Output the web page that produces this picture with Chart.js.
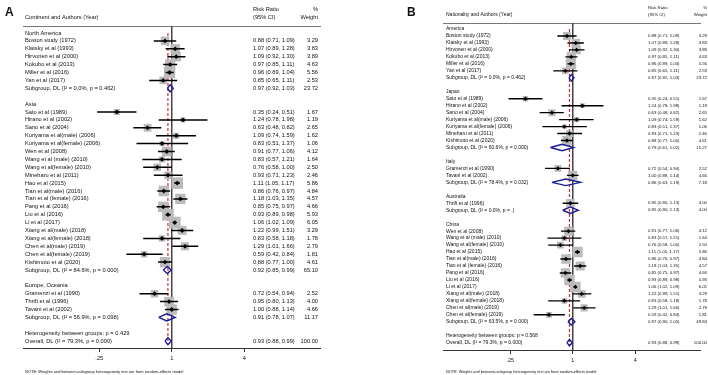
<!DOCTYPE html>
<html>
<head>
<meta charset="utf-8">
<script src="https://cdn.jsdelivr.net/npm/chart.js@4"></script>
<style>
  html, body { margin: 0; padding: 0; background: #fff; }
  #wrap { position: relative; width: 708px; height: 375px; }
  canvas { position: absolute; top: 0; }
  #forest-a { left: 0; }
  #forest-b { left: 354px; }
</style>
</head>
<body>
<div id="wrap">
  <canvas id="forest-a" width="354" height="375"></canvas>
  <canvas id="forest-b" width="354" height="375"></canvas>
</div>
<script>
// x axis (risk ratio, log scale)
const tickValues = [0.25, 1, 4];
const tickLabels = ['.25', '1', '4'];
const note = 'NOTE: Weights and between-subgroup heterogeneity test are from random-effects model';

// panel A, one entry per row top to bottom ('' = empty row, null = no estimate)
const namesA = [
  'North America',
  'Boston study (1972)', 'Klatsky et al (1993)', 'Hirvonen et al (2000)', 'Kokubo et al (2013)',
  'Miller et al (2016)', 'Yan et al (2017)',
  'Subgroup, DL (I² = 0.0%, p = 0.462)',
  '',
  'Asia',
  'Sato et al (1989)', 'Hirano et al (2002)', 'Sano et al (2004)', 'Kuriyama et al(male) (2006)',
  'Kuriyama et al(female) (2006)', 'Wen et al (2008)', 'Wang et al (male) (2010)', 'Wang et al(female) (2010)',
  'Mineharu et al (2011)', 'Hao et al (2015)', 'Tian et al(male) (2016)', 'Tian et al (female) (2016)',
  'Pang et al (2016)', 'Liu et al (2016)', 'Li et al (2017)', 'Xiang et al(male) (2018)',
  'Xiang et al(female) (2018)', 'Chen et al(male) (2019)', 'Chen et al(female) (2019)', 'Kishimoto et al (2020)',
  'Subgroup, DL (I² = 84.6%, p = 0.000)',
  '',
  'Europe, Oceania',
  'Gramenzi et al (1990)', 'Thrift et al (1996)', 'Tavani et al (2002)',
  'Subgroup, DL (I² = 56.9%, p = 0.098)',
  '',
  'Heterogeneity between groups: p = 0.429',
  'Overall, DL (I² = 79.3%, p = 0.000)'
];
const estA = [null, 0.88, 1.07, 1.09, 0.97, 0.96, 0.85, 0.97, null, null,
  0.35, 1.24, 0.63, 1.09, 0.83, 0.91, 0.83, 0.76, 0.93, 1.11, 0.86, 1.18, 0.85, 0.93, 1.06, 1.22, 0.83, 1.29, 0.59, 0.88,
  0.92, null, null, 0.72, 0.95, 1.00, 0.91, null, null, 0.93];
const lowA = [null, 0.71, 0.89, 0.92, 0.85, 0.89, 0.65, 0.92, null, null,
  0.24, 0.78, 0.48, 0.74, 0.51, 0.77, 0.57, 0.58, 0.71, 1.05, 0.76, 1.03, 0.75, 0.89, 1.02, 0.99, 0.58, 1.01, 0.42, 0.77,
  0.85, null, null, 0.54, 0.80, 0.88, 0.78, null, null, 0.88];
const highA = [null, 1.09, 1.28, 1.30, 1.11, 1.04, 1.11, 1.03, null, null,
  0.51, 1.98, 0.82, 1.59, 1.37, 1.06, 1.21, 1.00, 1.23, 1.17, 0.97, 1.35, 0.97, 0.98, 1.09, 1.51, 1.18, 1.66, 0.84, 1.00,
  0.99, null, null, 0.94, 1.13, 1.14, 1.07, null, null, 0.99];
const weightA = [null, 3.29, 3.83, 3.89, 4.63, 5.56, 2.53, 23.72, null, null,
  1.67, 1.19, 2.65, 1.62, 1.06, 4.12, 1.64, 2.50, 2.46, 5.86, 4.84, 4.57, 4.66, 5.93, 6.05, 3.29, 1.78, 2.79, 1.81, 4.61,
  65.10, null, null, 2.52, 4.00, 4.66, 11.17, null, null, 100.00];

// panel B
const namesB = [
  'America',
  'Boston study (1972)', 'Klatsky et al (1993)', 'Hirvonen et al (2000)', 'Kokubo et al (2013)',
  'Miller et al (2016)', 'Yan et al (2017)',
  'Subgroup, DL (I² = 0.0%, p = 0.462)',
  '',
  'Japan',
  'Sato et al (1989)', 'Hirano et al (2002)', 'Sano et al (2004)', 'Kuriyama et al(male) (2006)',
  'Kuriyama et al(female) (2006)', 'Mineharu et al (2011)', 'Kishimoto et al (2020)',
  'Subgroup, DL (I² = 60.6%, p = 0.000)',
  '',
  'Italy',
  'Gramenzi et al (1990)', 'Tavani et al (2002)',
  'Subgroup, DL (I² = 78.4%, p = 0.032)',
  '',
  'Australia',
  'Thrift et al (1996)',
  'Subgroup, DL (I² = 0.0%, p = .)',
  '',
  'China',
  'Wen et al (2008)', 'Wang et al (male) (2010)', 'Wang et al(female) (2010)', 'Hao et al (2015)',
  'Tian et al(male) (2016)', 'Tian et al (female) (2016)', 'Pang et al (2016)', 'Liu et al (2016)',
  'Li et al (2017)', 'Xiang et al(male) (2018)', 'Xiang et al(female) (2018)', 'Chen et al(male) (2019)',
  'Chen et al(female) (2019)',
  'Subgroup, DL (I² = 63.5%, p = 0.000)',
  '',
  'Heterogeneity between groups: p = 0.568',
  'Overall, DL (I² = 79.3%, p = 0.000)'
];
const estB = [null, 0.88, 1.07, 1.09, 0.97, 0.96, 0.85, 0.97, null, null,
  0.35, 1.24, 0.63, 1.09, 0.83, 0.93, 0.88, 0.79, null, null,
  0.72, 1.00, 0.86, null, null, 0.95, 0.95, null, null,
  0.91, 0.83, 0.76, 1.11, 0.86, 1.18, 0.85, 0.93, 1.06, 1.22, 0.83, 1.29, 0.59, 0.97, null, null, 0.93];
const lowB = [null, 0.71, 0.89, 0.92, 0.85, 0.89, 0.65, 0.92, null, null,
  0.24, 0.78, 0.48, 0.74, 0.51, 0.71, 0.77, 0.61, null, null,
  0.54, 0.88, 0.63, null, null, 0.80, 0.80, null, null,
  0.77, 0.57, 0.58, 1.05, 0.76, 1.03, 0.75, 0.89, 1.02, 0.99, 0.58, 1.01, 0.42, 0.90, null, null, 0.88];
const highB = [null, 1.09, 1.28, 1.30, 1.11, 1.04, 1.11, 1.03, null, null,
  0.51, 1.98, 0.82, 1.59, 1.37, 1.23, 1.00, 1.02, null, null,
  0.94, 1.14, 1.19, null, null, 1.13, 1.13, null, null,
  1.06, 1.21, 1.00, 1.17, 0.97, 1.35, 0.97, 0.98, 1.09, 1.51, 1.18, 1.66, 0.84, 1.05, null, null, 0.99];
const weightB = [null, 3.29, 3.83, 3.89, 4.63, 5.56, 2.53, 23.72, null, null,
  1.67, 1.19, 2.65, 1.62, 1.06, 2.46, 4.61, 15.27, null, null,
  2.52, 4.66, 7.18, null, null, 4.00, 4.00, null, null,
  4.12, 1.64, 2.50, 5.86, 4.84, 4.57, 4.66, 5.93, 6.05, 3.29, 1.78, 2.79, 1.81, 49.84, null, null, 100.00];

const FONT = '"Liberation Sans", Arial, sans-serif';
const TEXT = '#111';

function forest(id, names, est, low, high, weight, look) {
  const dots = [], boxes = [], boxR = [], ci = [], diamonds = [];
  names.forEach((n, i) => {
    if (est[i] == null) return;
    const y = i + 1;
    if (/^(Subgroup|Overall)/.test(n)) {
      diamonds.push([
        {x: low[i], y: y}, {x: est[i], y: y - look.dh}, {x: high[i], y: y},
        {x: est[i], y: y + look.dh}, {x: low[i], y: y}
      ]);
    } else {
      dots.push({x: est[i], y: y});
      boxes.push({x: est[i], y: y});
      boxR.push(look.box * Math.sqrt(weight[i]) / Math.SQRT2);
      ci.push({x: low[i], y: y}, {x: high[i], y: y}, {x: null, y: null});
    }
  });
  const overall = est[est.length - 1];

  const datasets = [
    {data: dots, pointStyle: 'rectRot', pointRadius: look.dot, backgroundColor: '#000', borderWidth: 0, order: 0},
    {data: ci, showLine: true, borderColor: '#000', borderWidth: look.ciW, pointRadius: 0, spanGaps: false, order: 1},
    ...diamonds.map(d => ({data: d, showLine: true, borderColor: '#1c1c9a', borderWidth: 1.4, pointRadius: 0, order: 1})),
    {data: boxes, pointStyle: 'rect', pointRadius: boxR, backgroundColor: '#bbbbbb', borderWidth: 0, order: 2},
    {data: [{x: 1, y: look.yMin}, {x: 1, y: look.yMax}], showLine: true, borderColor: '#444', borderWidth: 1, pointRadius: 0, order: 3},
    {data: [{x: overall, y: 1}, {x: overall, y: names.length + 0.5}], showLine: true, borderColor: '#cc2f36',
      borderWidth: 1.2, borderDash: [3, 2], pointRadius: 0, order: 3}
  ];

  const textLayer = {
    id: 'forestText',
    afterDraw(chart) {
      const ctx = chart.ctx;
      const ys = chart.scales.y;
      ctx.save();
      ctx.fillStyle = TEXT;
      ctx.textBaseline = 'middle';

      ctx.font = 'bold ' + look.letterSize + 'px ' + FONT;
      ctx.textAlign = 'left';
      ctx.fillText(look.letter, look.letterX, look.letterY);

      ctx.font = look.font + 'px ' + FONT;
      ctx.fillText(look.colTitle, look.nameX, look.head2Y);
      ctx.font = look.numFont + 'px ' + FONT;
      ctx.fillText('Risk Ratio', look.rrX, look.head1Y);
      ctx.fillText('(95% CI)', look.rrX, look.head2Y);
      ctx.textAlign = 'right';
      ctx.fillText('%', look.wX, look.head1Y);
      ctx.fillText('Weight', look.wX, look.head2Y);

      names.forEach((n, i) => {
        if (!n) return;
        const py = ys.getPixelForValue(i + 1);
        ctx.textAlign = 'left';
        ctx.font = look.font + 'px ' + FONT;
        ctx.fillText(n, look.nameX, py);
        if (est[i] == null) return;
        ctx.font = look.numFont + 'px ' + FONT;
        ctx.fillText(est[i].toFixed(2) + ' (' + low[i].toFixed(2) + ', ' + high[i].toFixed(2) + ')', look.rrX, py);
        ctx.textAlign = 'right';
        ctx.fillText(weight[i].toFixed(2), look.wX, py);
      });

      ctx.textAlign = 'left';
      ctx.font = look.noteSize + 'px ' + FONT;
      ctx.fillText(note, look.nameX, look.noteY);
      ctx.restore();
    }
  };

  return new Chart(document.getElementById(id), {
    type: 'scatter',
    data: {datasets: datasets},
    options: {
      responsive: false,
      animation: false,
      devicePixelRatio: 1,
      events: [],
      layout: {padding: look.pad},
      plugins: {legend: {display: false}, tooltip: {enabled: false}},
      scales: {
        x: {
          type: 'logarithmic',
          position: 'bottom',
          min: look.xMin,
          max: look.xMax,
          afterFit: s => { s.height = look.axisH; },
          afterBuildTicks: s => { s.ticks = tickValues.map(v => ({value: v})); },
          grid: {display: true, drawOnChartArea: false, drawTicks: true, tickLength: 4, color: '#333', lineWidth: 1},
          border: {display: true, color: '#333', width: 1},
          ticks: {
            autoSkip: false, maxRotation: 0, padding: 3, color: TEXT,
            font: {family: FONT, size: look.tickSize},
            callback: v => { const k = tickValues.indexOf(v); return k < 0 ? '' : tickLabels[k]; }
          }
        },
        x2: {
          type: 'logarithmic',
          position: 'top',
          min: look.xMin,
          max: look.xMax,
          afterFit: s => { s.height = 0; },
          grid: {display: false},
          border: {display: true, color: '#777', width: 1},
          ticks: {display: false}
        },
        y: {
          type: 'linear',
          display: false,
          reverse: true,
          min: look.yMin,
          max: look.yMax
        }
      }
    },
    plugins: [textLayer]
  });
}

forest('forest-a', namesA, estA, lowA, highA, weightA, {
  letter: 'A', letterX: 5, letterY: 13, letterSize: 12,
  colTitle: 'Continent and Authors (Year)',
  nameX: 25, rrX: 253, wX: 318, head1Y: 9, head2Y: 17, noteY: 372,
  font: 5.7, numFont: 5.7, noteSize: 4, tickSize: 5.6,
  box: 4.8, dot: 2.4, ciW: 1.5, dh: 0.45,
  yMin: 0.114, yMax: 40.87, xMin: 0.0582, xMax: 17.04,
  pad: {left: 23, right: 34, top: 26, bottom: 0}, axisH: 27
});

forest('forest-b', namesB, estB, lowB, highB, weightB, {
  letter: 'B', letterX: 53, letterY: 13, letterSize: 12,
  colTitle: 'Nationality and Authors (Year)',
  nameX: 92, rrX: 294, wX: 353, head1Y: 7.5, head2Y: 15, noteY: 372,
  font: 5, numFont: 4.3, noteSize: 3.8, tickSize: 5.4,
  box: 4.3, dot: 2.2, ciW: 1.4, dh: 0.47,
  yMin: 0.138, yMax: 47.05, xMin: 0.0561, xMax: 17.08,
  pad: {left: 89, right: 1, top: 23, bottom: 0}, axisH: 25
});
</script>
</body>
</html>
